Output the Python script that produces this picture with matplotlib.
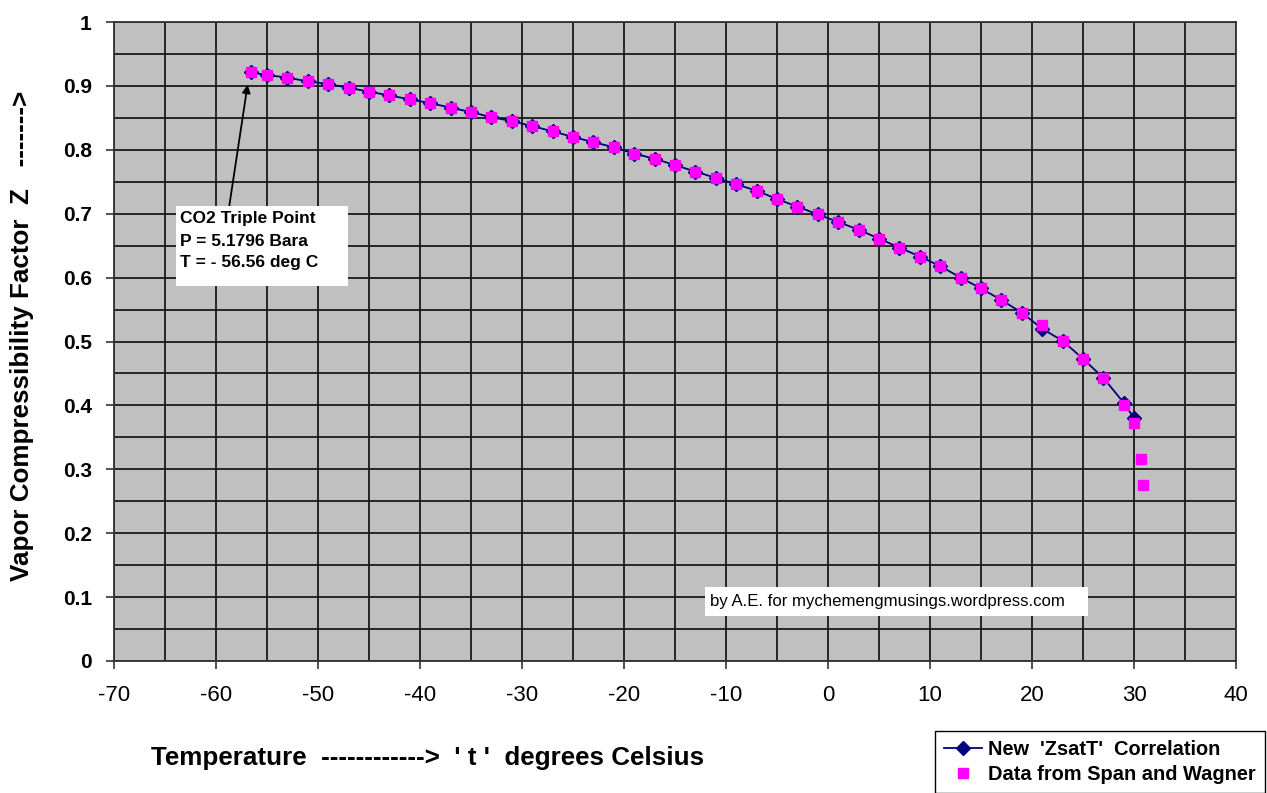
import matplotlib
matplotlib.use("Agg")
import matplotlib.pyplot as plt
from matplotlib.ticker import MultipleLocator
from matplotlib.patches import Rectangle

plt.rcParams['font.family'] = ['Liberation Sans', 'DejaVu Sans']
plt.rcParams['axes.unicode_minus'] = False

# Correlation (diamonds + line)
t_corr = [-56.56, -55, -53, -51, -49, -47, -45, -43, -41, -39, -37, -35, -33, -31,
          -29, -27, -25, -23, -21, -19, -17, -15, -13, -11, -9, -7, -5, -3, -1,
          1, 3, 5, 7, 9, 11, 13, 15, 17, 19, 21, 23, 25, 27, 29, 30]
z_corr = [0.921, 0.917, 0.913, 0.907, 0.903, 0.897, 0.891, 0.885, 0.879, 0.873,
          0.866, 0.859, 0.851, 0.845, 0.837, 0.829, 0.820, 0.812, 0.804, 0.794,
          0.786, 0.776, 0.766, 0.756, 0.746, 0.736, 0.723, 0.711, 0.699, 0.687,
          0.675, 0.661, 0.647, 0.633, 0.618, 0.600, 0.583, 0.565, 0.545, 0.520,
          0.501, 0.473, 0.443, 0.404, 0.380]

# Span & Wagner data (magenta squares)
t_data = [-56.56, -55, -53, -51, -49, -47, -45, -43, -41, -39, -37, -35, -33, -31,
          -29, -27, -25, -23, -21, -19, -17, -15, -13, -11, -9, -7, -5, -3, -1,
          1, 3, 5, 7, 9, 11, 13, 15, 17, 19, 21, 23, 25, 27, 29, 30, 30.7, 30.85]
z_data = [0.921, 0.917, 0.913, 0.907, 0.903, 0.897, 0.891, 0.885, 0.879, 0.873,
          0.866, 0.859, 0.851, 0.845, 0.837, 0.829, 0.820, 0.812, 0.804, 0.794,
          0.786, 0.776, 0.766, 0.756, 0.746, 0.736, 0.723, 0.711, 0.699, 0.687,
          0.675, 0.661, 0.647, 0.633, 0.618, 0.600, 0.583, 0.565, 0.545, 0.526,
          0.501, 0.473, 0.443, 0.401, 0.373, 0.316, 0.276]

y_ticks = [0, 0.1, 0.2, 0.3, 0.4, 0.5, 0.6, 0.7, 0.8, 0.9, 1.0]
y_tick_labels = ['0', '0.1', '0.2', '0.3', '0.4', '0.5', '0.6', '0.7', '0.8', '0.9', '1']
triple_lines = ['CO2 Triple Point', 'P = 5.1796 Bara', 'T = - 56.56 deg C']

W, H = 1267, 793
fig = plt.figure(figsize=(W / 100, H / 100), dpi=100)
ax = fig.add_axes([114 / W, 1 - 661 / H, (1236 - 114) / W, (661 - 22) / H])
ax.set_facecolor('#C0C0C0')

ax.set_xlim(-70, 40)
ax.set_ylim(0, 1)
ax.xaxis.set_major_locator(MultipleLocator(10))
ax.xaxis.set_minor_locator(MultipleLocator(5))
ax.yaxis.set_minor_locator(MultipleLocator(0.05))
ax.set_yticks(y_ticks)
ax.set_yticklabels(y_tick_labels, fontweight='bold')
ax.grid(True, which='both', color='#1a1a1a', linewidth=1.3)
ax.set_axisbelow(True)
ax.tick_params(axis='both', which='minor', length=0)
ax.tick_params(axis='both', which='major', length=6, width=1.2, color='#333333')
ax.tick_params(axis='x', labelsize=16, pad=11)
ax.tick_params(axis='y', labelsize=15, pad=10)
for s in ax.spines.values():
    s.set_color('#333333')
    s.set_linewidth(1.3)

line, = ax.plot(t_corr, z_corr, color='#000080', linewidth=1.3, marker='D',
                markersize=7.5, markerfacecolor='#000080', markeredgecolor='#000080',
                zorder=3, label="New  'ZsatT'  Correlation")
pts, = ax.plot(t_data, z_data, linestyle='none', marker='s', markersize=7,
               markerfacecolor='#FF00FF', markeredgecolor='#FF00FF', zorder=4,
               label='Data from Span and Wagner')

# Triple point annotation
ax.annotate('', xy=(-56.9, 0.902), xytext=(-58.7, 0.712),
            arrowprops=dict(arrowstyle='-|>', color='black', lw=1.3,
                            mutation_scale=12, shrinkA=0, shrinkB=0), zorder=5)
ax.add_patch(Rectangle((-63.92, 0.587), 16.86, 0.125, facecolor='white',
                       edgecolor='none', zorder=6))
for txt, yy in zip(triple_lines, [0.692, 0.657, 0.623]):
    ax.text(-63.5, yy, txt, fontsize=12.5, fontweight='bold', va='center',
            ha='left', zorder=7)

ax.add_patch(Rectangle((-12.06, 0.0704), 37.55, 0.0454, facecolor='white',
                       edgecolor='none', zorder=6))
ax.text(-11.6, 0.0935, 'by A.E. for mychemengmusings.wordpress.com', fontsize=12.1,
        va='center', ha='left', zorder=7)

fig.text(22 / W, 1 - 336 / H, 'Vapor Compressibility Factor  Z   ------->',
         rotation=90, fontsize=18.7, fontweight='bold', ha='center', va='center')
fig.text(428 / W, 1 - 758 / H, "Temperature  ------------>  ' t '  degrees Celsius",
         fontsize=18.7, fontweight='bold', ha='center', va='center')

leg = fig.legend(handles=[line, pts], loc='upper left',
                 bbox_to_anchor=(935 / W, 1 - 731 / H), frameon=True, fancybox=False,
                 edgecolor='black', facecolor='white', framealpha=1,
                 prop={'weight': 'bold', 'size': 14.4}, handlelength=1.9,
                 borderpad=0.45, labelspacing=0.3, handletextpad=0.3,
                 borderaxespad=0)
leg.get_frame().set_linewidth(1.0)

fig.savefig('out.png', dpi=100)
